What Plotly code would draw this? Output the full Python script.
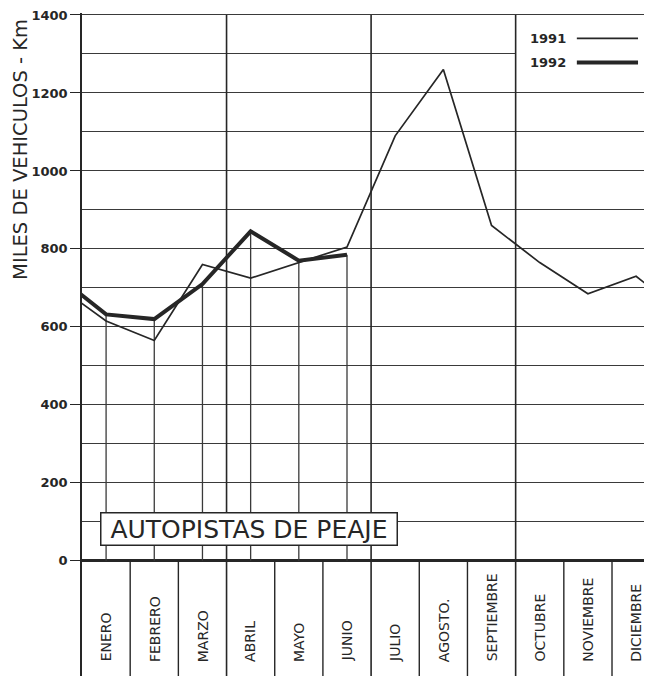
import plotly.graph_objects as go

# ---------------- data ----------------
months = ["ENERO", "FEBRERO", "MARZO", "ABRIL", "MAYO", "JUNIO", "JULIO",
          "AGOSTO.", "SEPTIEMBRE", "OCTUBRE", "NOVIEMBRE", "DICIEMBRE"]
v1991 = [615, 565, 760, 725, 765, 805, 1090, 1260, 860, 765, 685, 730]
v1992 = [632, 620, 710, 845, 770, 785]
dec_1990 = 705            # previous December, line enters from the left edge
y_ticks = [0, 200, 400, 600, 800, 1000, 1200, 1400]
y_minor = [100, 300, 500, 700, 900, 1100, 1300]
series_names = ["1991", "1992"]
title_text = "AUTOPISTAS DE PEAJE"
y_title = "MILES DE VEHICULOS - Km"

INK = "#262626"
GRID = "#3a3a3a"

# x positions: month centres at i + 0.5 ; previous Dec at -0.5, next Jan at 12.5
x1991 = [-0.5] + [i + 0.5 for i in range(12)] + [12.5]
y1991 = [dec_1990] + v1991 + [v1992[0]]
x1992 = [-0.5] + [i + 0.5 for i in range(len(v1992))]
y1992 = [v1991[-1]] + v1992

# drop lines from the axis to the 1992 points
dx, dy = [], []
for i, v in enumerate(v1992):
    dx += [i + 0.5, i + 0.5, None]
    dy += [0, v, None]

fig = go.Figure()
fig.add_trace(go.Scatter(x=dx, y=dy, mode="lines",
                         line=dict(color=GRID, width=1.3), showlegend=False,
                         hoverinfo="skip"))
fig.add_trace(go.Scatter(x=x1991, y=y1991, mode="lines", name=series_names[0],
                         line=dict(color=INK, width=1.7), showlegend=False))
fig.add_trace(go.Scatter(x=x1992, y=y1992, mode="lines", name=series_names[1],
                         line=dict(color=INK, width=4), showlegend=False))

X_MAX = 11.83
Y_MIN, Y_MAX = -295.4, 1405.1

shapes = []
# white area behind the legend (covers the 1300 gridline)
shapes.append(dict(type="rect", xref="x", yref="y", x0=9, x1=12.2, y0=1212, y1=1393,
                   fillcolor="white", line=dict(width=0), layer="between"))
# quarter dividers (full height, through the label strip)
for q in [3, 6, 9]:
    shapes.append(dict(type="line", xref="x", yref="y", x0=q, x1=q, y0=Y_MIN, y1=1400,
                       line=dict(color=INK, width=1.6), layer="between"))
# month separators in the label strip
for m in range(1, 12):
    if m % 3:
        shapes.append(dict(type="line", xref="x", yref="y", x0=m, x1=m, y0=Y_MIN, y1=0,
                           line=dict(color=INK, width=1.4), layer="between"))
# legend samples
shapes.append(dict(type="line", xref="x", yref="y", x0=10.27, x1=11.54, y0=1340, y1=1340,
                   line=dict(color=INK, width=1.8), layer="above"))
shapes.append(dict(type="line", xref="x", yref="y", x0=10.27, x1=11.54, y0=1278, y1=1278,
                   line=dict(color=INK, width=4), layer="above"))

annotations = []
for i, m in enumerate(months):
    annotations.append(dict(x=i + 0.5, y=-264, xref="x", yref="y", text=m,
                            textangle=-90, showarrow=False, yanchor="bottom",
                            xanchor="center",
                            font=dict(family="DejaVu Sans", size=14, color=INK)))
annotations.append(dict(x=9.67, y=1340, xref="x", yref="y", text=series_names[0],
                        showarrow=False,
                        font=dict(family="DejaVu Sans", size=13, color=INK, weight="bold")))
annotations.append(dict(x=9.67, y=1278, xref="x", yref="y", text=series_names[1],
                        showarrow=False,
                        font=dict(family="DejaVu Sans", size=13, color=INK, weight="bold")))
annotations.append(dict(x=3.46, y=81, xref="x", yref="y",
                        text="&nbsp;" + title_text + "&nbsp;",
                        showarrow=False, bgcolor="white", bordercolor=INK,
                        borderwidth=1.5, borderpad=1,
                        font=dict(family="DejaVu Sans", size=25, color=INK)))
annotations.append(dict(x=-0.107, y=1054, xref="paper", yref="y", text=y_title,
                        textangle=-90, showarrow=False, xanchor="center",
                        font=dict(family="DejaVu Sans", size=19.5, color=INK)))

# page body adds an 8px offset, so the figure is 8px smaller than the window
fig.update_layout(
    width=644, height=668,
    margin=dict(l=74, r=0, t=5, b=0, pad=0),
    paper_bgcolor="white", plot_bgcolor="white",
    showlegend=False,
    shapes=shapes, annotations=annotations,
    xaxis=dict(range=[0, X_MAX], showgrid=False, zeroline=False,
               showticklabels=False, ticks="", showline=False, fixedrange=True),
    yaxis=dict(range=[Y_MIN, Y_MAX], tickmode="array", tickvals=y_ticks,
               ticktext=[str(t) for t in y_ticks], ticklabeloverflow="allow",
               showgrid=True, gridcolor=GRID, gridwidth=1.3,
               zeroline=True, zerolinecolor=INK, zerolinewidth=2.6,
               showline=True, linecolor=INK, linewidth=1.6,
               ticks="outside", ticklen=10, tickwidth=1.4, tickcolor=INK,
               tickfont=dict(family="DejaVu Sans", size=13, color=INK, weight="bold"),
               minor=dict(tickvals=y_minor, showgrid=True, gridcolor=GRID,
                          gridwidth=1.3, ticks=""),
               fixedrange=True),
)

fig.write_html("out.html")
